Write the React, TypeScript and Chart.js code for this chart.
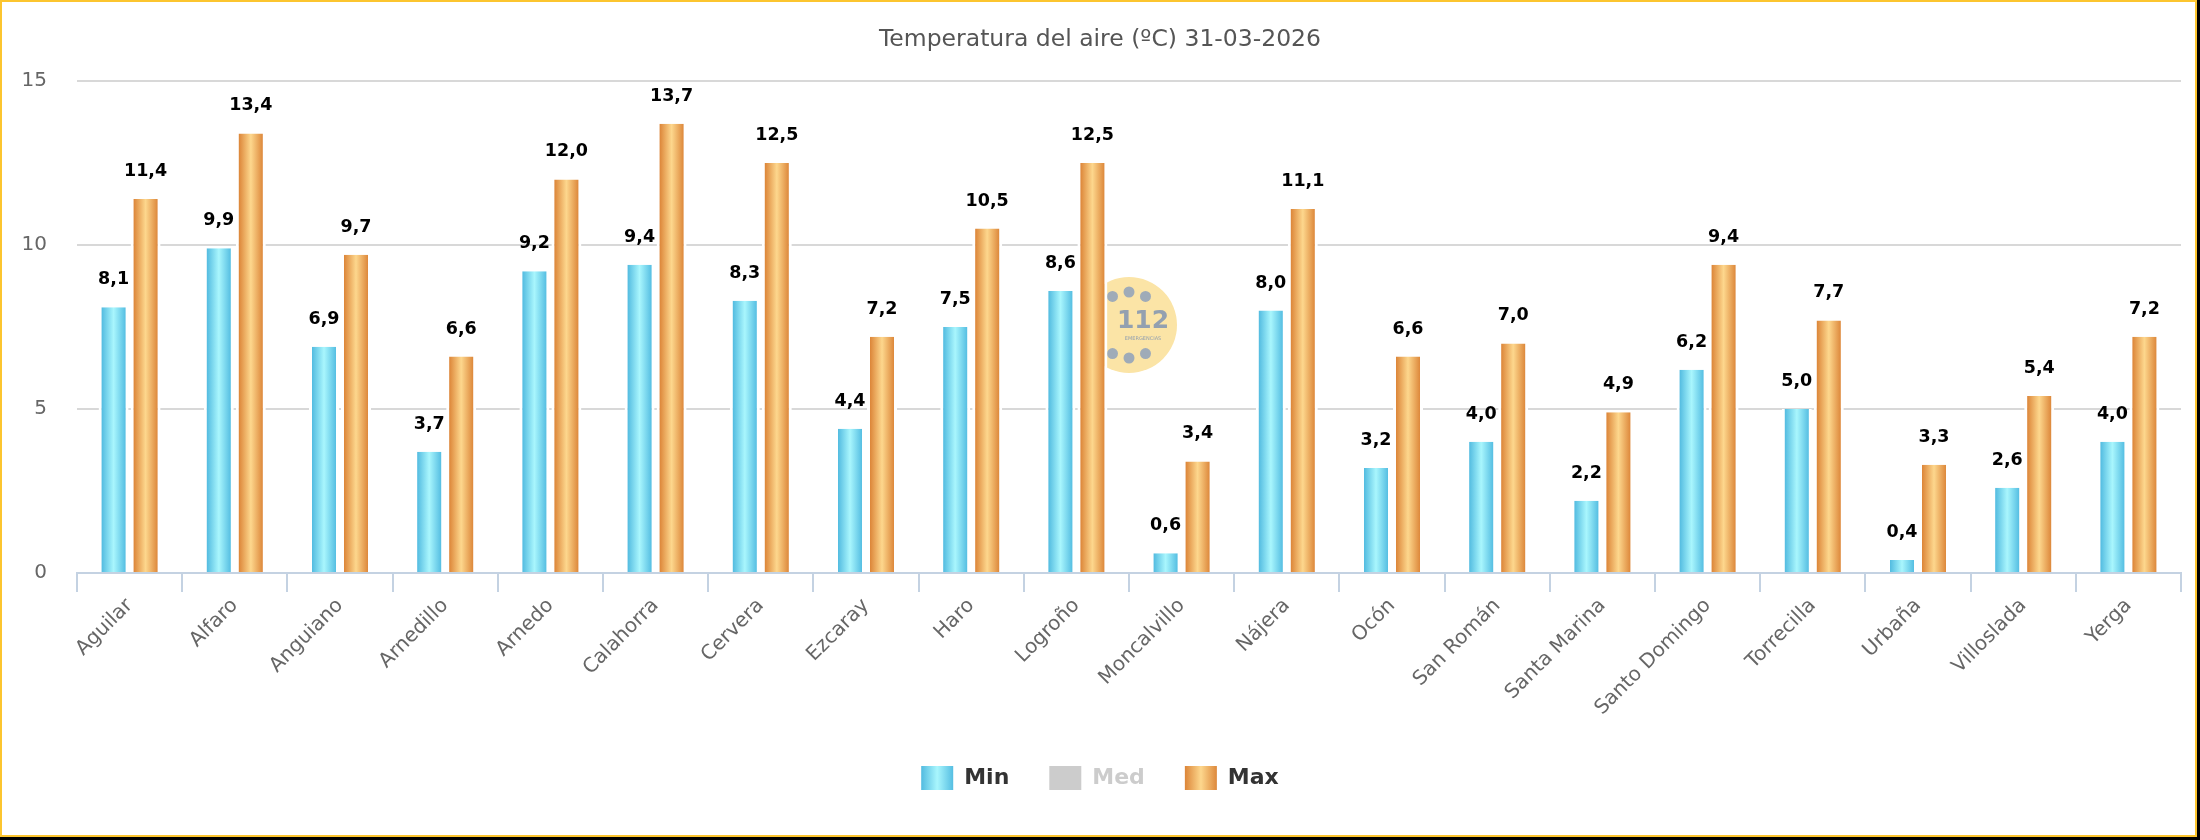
import React, { useEffect, useRef } from "react";
import { Chart, registerables } from "chart.js";

Chart.register(...registerables);

const TITLE = "Temperatura del aire (ºC) 31-03-2026";
const CATEGORIES = [
  "Aguilar", "Alfaro", "Anguiano", "Arnedillo", "Arnedo", "Calahorra", "Cervera",
  "Ezcaray", "Haro", "Logroño", "Moncalvillo", "Nájera", "Ocón", "San Román",
  "Santa Marina", "Santo Domingo", "Torrecilla", "Urbaña", "Villoslada", "Yerga",
];
const MIN_VALUES = [8.1, 9.9, 6.9, 3.7, 9.2, 9.4, 8.3, 4.4, 7.5, 8.6, 0.6, 8.0, 3.2, 4.0, 2.2, 6.2, 5.0, 0.4, 2.6, 4.0];
const MED_VALUES: number[] = []; // serie oculta en la leyenda
const MAX_VALUES = [11.4, 13.4, 9.7, 6.6, 12.0, 13.7, 12.5, 7.2, 10.5, 12.5, 3.4, 11.1, 6.6, 7.0, 4.9, 9.4, 7.7, 3.3, 5.4, 7.2];
const SERIES_NAMES = ["Min", "Med", "Max"];
const Y_MIN = 0;
const Y_MAX = 15;
const Y_STEP = 5;

const FONT = '"DejaVu Sans", sans-serif';
const CAT_PCT = 64 / 105.2;
const BAR_PCT = 30 / 32;
const BAR_BORDER = 3;

const MIN_STOPS = ["#52bbe0", "#a9f6fd", "#55bee2"];
const MAX_STOPS = ["#dc8538", "#fdd78d", "#dd883b"];
const MED_COLOR = "#cccccc";

function barGradient(stops: string[], slotIndex: number) {
  return (ctx: any) => {
    const chart = ctx.chart;
    const xs = chart.scales ? chart.scales.x : null;
    if (ctx.type !== "data" || !xs || !chart.chartArea) return stops[1];
    const n = chart.data.labels.length;
    const cw = xs.width / n;
    const slot = (cw * CAT_PCT) / 2;
    const c = xs.getPixelForValue(ctx.dataIndex) + (slotIndex - 0.5) * slot;
    const w = slot * BAR_PCT - 2 * BAR_BORDER;
    const g = chart.ctx.createLinearGradient(c - w / 2, 0, c + w / 2, 0);
    g.addColorStop(0, stops[0]);
    g.addColorStop(0.5, stops[1]);
    g.addColorStop(1, stops[2]);
    return g;
  };
}

const legendGradientPlugin = {
  id: "legendGradient",
  beforeDraw(chart: any) {
    const lg = chart.legend;
    if (!lg || !lg.legendItems || !lg.legendHitBoxes) return;
    const stopsFor = [MIN_STOPS, null, MAX_STOPS];
    lg.legendItems.forEach((item: any, i: number) => {
      const hb = lg.legendHitBoxes[i];
      const stops = stopsFor[item.datasetIndex];
      if (!hb || !stops) return;
      const g = chart.ctx.createLinearGradient(hb.left, 0, hb.left + 32, 0);
      g.addColorStop(0, stops[0]);
      g.addColorStop(0.5, stops[1]);
      g.addColorStop(1, stops[2]);
      item.fillStyle = g;
    });
  },
};

const watermarkPlugin = {
  id: "watermark112",
  beforeDatasetsDraw(chart: any) {
    const ctx = chart.ctx;
    const cx = 1129, cy = 325;
    ctx.save();
    ctx.fillStyle = "#fbe4a6";
    ctx.beginPath();
    ctx.arc(cx, cy, 48, 0, Math.PI * 2);
    ctx.fill();
    ctx.fillStyle = "#9fabb8";
    [60, 90, 120, 240, 270, 300].forEach((a) => {
      const r = (a * Math.PI) / 180;
      ctx.beginPath();
      ctx.arc(cx + 33 * Math.cos(r), cy + 33 * Math.sin(r), 5.5, 0, Math.PI * 2);
      ctx.fill();
    });
    ctx.fillStyle = "#93a0b0";
    ctx.textAlign = "center";
    ctx.textBaseline = "alphabetic";
    ctx.font = `bold 25px ${FONT}`;
    ctx.fillText("112", cx + 14, cy + 3);
    ctx.font = `5px ${FONT}`;
    ctx.fillText("EMERGENCIAS", cx + 14, cy + 15);
    ctx.restore();
  },
};

const dataLabelPlugin = {
  id: "dataLabels",
  afterDatasetsDraw(chart: any) {
    const ctx = chart.ctx;
    ctx.save();
    ctx.font = `bold 17.5px ${FONT}`;
    ctx.fillStyle = "#000000";
    ctx.textAlign = "center";
    ctx.textBaseline = "alphabetic";
    chart.data.datasets.forEach((ds: any, di: number) => {
      if (!chart.isDatasetVisible(di)) return;
      const meta = chart.getDatasetMeta(di);
      meta.data.forEach((el: any, i: number) => {
        const v = ds.data[i];
        if (v === null || v === undefined) return;
        ctx.fillText(Number(v).toFixed(1).replace(".", ","), el.x, el.y - 23);
      });
    });
    ctx.restore();
  },
};

export default function App() {
  const canvasRef = useRef<HTMLCanvasElement | null>(null);

  useEffect(() => {
    const canvas = canvasRef.current;
    if (!canvas) return;
    const chart = new Chart(canvas, {
      type: "bar",
      data: {
        labels: CATEGORIES,
        datasets: [
          {
            label: SERIES_NAMES[0],
            data: MIN_VALUES,
            backgroundColor: barGradient(MIN_STOPS, 0),
            borderColor: "#ffffff",
            borderWidth: { left: BAR_BORDER, right: BAR_BORDER, top: 0, bottom: 0 },
            borderSkipped: false,
            categoryPercentage: CAT_PCT,
            barPercentage: BAR_PCT,
          },
          {
            label: SERIES_NAMES[1],
            data: MED_VALUES,
            hidden: true,
            backgroundColor: MED_COLOR,
            categoryPercentage: CAT_PCT,
            barPercentage: BAR_PCT,
          },
          {
            label: SERIES_NAMES[2],
            data: MAX_VALUES,
            backgroundColor: barGradient(MAX_STOPS, 1),
            borderColor: "#ffffff",
            borderWidth: { left: BAR_BORDER, right: BAR_BORDER, top: 0, bottom: 0 },
            borderSkipped: false,
            categoryPercentage: CAT_PCT,
            barPercentage: BAR_PCT,
          },
        ] as any,
      },
      options: {
        animation: false,
        responsive: false,
        devicePixelRatio: 1,
        layout: { padding: { left: 19, right: 19, top: 0, bottom: 40 } },
        plugins: {
          title: {
            display: true,
            text: TITLE,
            color: "#555555",
            font: { family: FONT, size: 23.5, weight: "normal", lineHeight: 1.2 },
            padding: { top: 26, bottom: 26.8 },
          },
          legend: {
            display: true,
            position: "bottom",
            onClick: () => {},
            labels: {
              boxWidth: 32,
              boxHeight: 24,
              padding: 40,
              font: { family: FONT, size: 22, weight: "bold" },
              color: "#333333",
              generateLabels: (chart: any) =>
                chart.data.datasets.map((ds: any, i: number) => ({
                  text: ds.label,
                  fillStyle: i === 1 ? MED_COLOR : i === 0 ? MIN_STOPS[1] : MAX_STOPS[1],
                  strokeStyle: "rgba(0,0,0,0)",
                  lineWidth: 0,
                  hidden: false,
                  fontColor: i === 1 ? "#cccccc" : "#333333",
                  datasetIndex: i,
                })),
            },
          },
          tooltip: { enabled: false },
        },
        scales: {
          x: {
            type: "category",
            offset: true,
            grid: {
              offset: true,
              drawOnChartArea: false,
              drawTicks: true,
              tickLength: 19,
              tickColor: "#c4d2e2",
              tickWidth: 2,
              lineWidth: 2,
              color: "#c4d2e2",
            },
            border: { display: true, color: "#c4d2e2", width: 2 },
            ticks: {
              autoSkip: false,
              maxRotation: 45,
              minRotation: 45,
              padding: 2,
              color: "#666666",
              font: { family: FONT, size: 20 },
            },
            afterFit: (scale: any) => {
              scale.height = 153;
            },
          },
          y: {
            min: Y_MIN,
            max: Y_MAX,
            grid: {
              drawTicks: false,
              lineWidth: 2,
              color: (c: any) => (c.tick && c.tick.value === 0 ? "rgba(0,0,0,0)" : "#d8d8d8"),
            },
            border: { display: false },
            ticks: {
              stepSize: Y_STEP,
              padding: 30,
              color: "#666666",
              font: { family: FONT, size: 20 },
            },
            afterFit: (scale: any) => {
              scale.width = 58;
            },
          },
        },
      } as any,
      plugins: [legendGradientPlugin, watermarkPlugin, dataLabelPlugin],
    });
    return () => chart.destroy();
  }, []);

  return (
    <div style={{ position: "fixed", left: 0, top: 0, width: 2200, height: 840, background: "#000000" }}>
      <div
        style={{
          position: "absolute",
          left: 0,
          top: 0,
          width: 2197,
          height: 837,
          boxSizing: "border-box",
          border: "2px solid #fcc52f",
          background: "#ffffff",
        }}
      />
      <canvas
        ref={canvasRef}
        width={2200}
        height={840}
        style={{ position: "absolute", left: 0, top: 0, width: 2200, height: 840 }}
      />
    </div>
  );
}
